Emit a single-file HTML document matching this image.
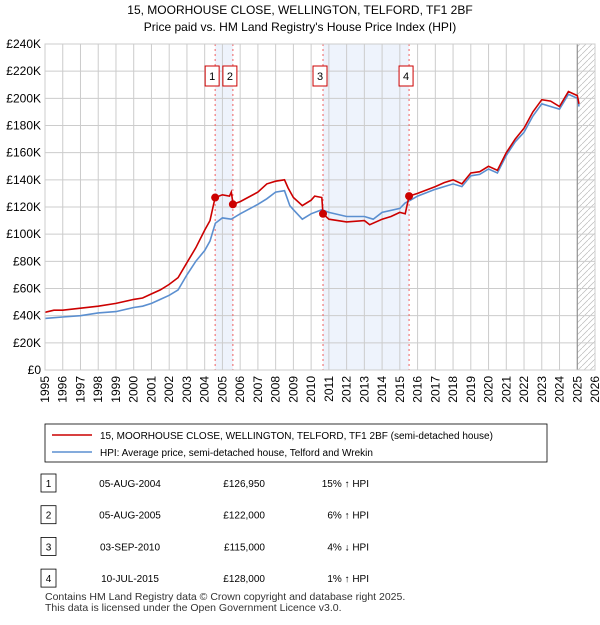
<!DOCTYPE html>
<html><head><meta charset="utf-8"><style>
body{margin:0;background:#fff;font-family:"Liberation Sans","DejaVu Sans",sans-serif;}
</style></head><body>
<svg width="600" height="620" xmlns="http://www.w3.org/2000/svg" font-family="Liberation Sans, DejaVu Sans, sans-serif">
<text x="300" y="14" text-anchor="middle" font-size="12">15, MOORHOUSE CLOSE, WELLINGTON, TELFORD, TF1 2BF</text>
<text x="300" y="31" text-anchor="middle" font-size="12">Price paid vs. HM Land Registry's House Price Index (HPI)</text>
<g id="plot"></g>
<g>
<rect x="45" y="424" width="502" height="38" fill="#fff" stroke="#000" stroke-width="0.8"/>
<line x1="52" y1="435" x2="92" y2="435" stroke="#cc0000" stroke-width="1.6"/>
<text x="100" y="439" font-size="10">15, MOORHOUSE CLOSE, WELLINGTON, TELFORD, TF1 2BF (semi-detached house)</text>
<line x1="52" y1="452" x2="92" y2="452" stroke="#5b8fd0" stroke-width="1.6"/>
<text x="100" y="456" font-size="10">HPI: Average price, semi-detached house, Telford and Wrekin</text>
</g>
<g id="table"></g>
<text x="45" y="600" font-size="10.5" fill="#333">Contains HM Land Registry data © Crown copyright and database right 2025.</text>
<text x="45" y="611" font-size="10.5" fill="#333">This data is licensed under the Open Government Licence v3.0.</text>
</svg>
<script>
const yTicks=[0,20,40,60,80,100,120,140,160,180,200,220,240];
const years=[1995,1996,1997,1998,1999,2000,2001,2002,2003,2004,2005,2006,2007,2008,2009,2010,2011,2012,2013,2014,2015,2016,2017,2018,2019,2020,2021,2022,2023,2024,2025,2026];
const redT=[1995,1995.5,1996,1997,1998,1999,2000,2000.5,2001,2001.5,2002,2002.5,2003,2003.5,2004,2004.3,2004.59,2005,2005.4,2005.5,2005.6,2006,2007,2007.5,2008,2008.5,2008.7,2009,2009.5,2010,2010.2,2010.6,2010.67,2011,2012,2013,2013.3,2014,2014.5,2015,2015.3,2015.52,2016,2017,2017.5,2018,2018.5,2019,2019.5,2020,2020.5,2021,2021.5,2022,2022.5,2023,2023.5,2024,2024.5,2025,2025.1];
const redV=[42.5,44,44,45.5,47,49,52,53,56,59,63,68,79,90,103,110,126.95,129,128,131,122,124,131,137,139,140,134,127,121,125,128,127,115,111,109,110,107,111,113,116,115,128,130,135,138,140,137,145,146,150,147,160,170,178,190,199,198,194,205,202,196];
const hpiT=[1995,1995.5,1996,1997,1998,1999,2000,2000.5,2001,2001.5,2002,2002.5,2003,2003.5,2004,2004.3,2004.6,2005,2005.5,2006,2007,2007.5,2008,2008.5,2008.8,2009,2009.5,2010,2010.6,2011,2012,2013,2013.5,2014,2015,2015.3,2015.6,2016,2017,2018,2018.5,2019,2019.5,2020,2020.5,2021,2021.5,2022,2022.5,2023,2023.5,2024,2024.5,2025,2025.1];
const hpiV=[38,38.5,39,40,42,43,46,47,49,52,55,59,70,80,88,95,108,112,111,115,122,126,131,132,121,118,111,115,118,116,113,113,111,116,119,123,125,128,133,137,135,143,144,148,145,158,168,175,187,196,194,192,203,200,194];
const saleLabels=["1","2","3","4"];
const saleT=[2004.59,2005.59,2010.67,2015.52];
const saleV=[126.95,122,115,128];
const saleDates=["05-AUG-2004","05-AUG-2005","03-SEP-2010","10-JUL-2015"];
const salePrices=["£126,950","£122,000","£115,000","£128,000"];
const saleHpi=["15% ↑ HPI","6% ↑ HPI","4% ↓ HPI","1% ↑ HPI"];
const X0=45,X1=595,Y0=370,Y1=44;
const xs=t=>X0+(t-1995)/31*(X1-X0);
const ys=v=>Y0-v/240*(Y0-Y1);
const NS="http://www.w3.org/2000/svg";
const plot=document.getElementById('plot');
function mk(tag,attrs,parent){const e=document.createElementNS(NS,tag);for(const k in attrs)e.setAttribute(k,attrs[k]);(parent||plot).appendChild(e);return e;}
[[0,1],[2,3]].forEach(p=>{const r=mk('rect',{x:xs(saleT[p[0]]),y:Y1,width:xs(saleT[p[1]])-xs(saleT[p[0]]),height:Y0-Y1,fill:'#eef3fc'});

});
const defs=mk('defs',{});const pat=mk('pattern',{id:'h',width:6,height:6,patternUnits:'userSpaceOnUse'},defs);mk('path',{d:'M0,6 L6,0',stroke:'#bbb','stroke-width':0.7},pat);
const hr=mk('rect',{x:xs(2025),y:Y1,width:X1-xs(2025),height:Y0-Y1,fill:'url(#h)'});


yTicks.forEach(v=>{mk('line',{x1:X0,x2:X1,y1:ys(v),y2:ys(v),stroke:'#ccc','stroke-width':1});
const t=mk('text',{x:X0-4,y:ys(v)+4,'text-anchor':'end','font-size':12});t.textContent='£'+(v?v+'K':'0');

});
years.forEach(y=>{mk('line',{x1:xs(y),x2:xs(y),y1:Y1,y2:Y0,stroke:'#ccc','stroke-width':1});
const t=mk('text',{x:0,y:0,'text-anchor':'end','font-size':12,transform:`translate(${xs(y)+4},${Y0+6}) rotate(-90)`});t.textContent=y;

});
mk('line',{x1:xs(2025),x2:xs(2025),y1:Y1,y2:Y0,stroke:'#888','stroke-width':1});
saleT.forEach((t,i)=>{const l=mk('line',{x1:xs(t),x2:xs(t),y1:Y1,y2:Y0,stroke:'#f06060','stroke-width':1,'stroke-dasharray':'2,3'});


const bx=xs(t)-10;
const b=mk('rect',{x:bx,y:66,width:14,height:20,fill:'#fff',stroke:'#cc0000','stroke-width':1});


const tx=mk('text',{x:bx+7,y:80,'text-anchor':'middle','font-size':11});tx.textContent=saleLabels[i];

});
const line=(T,V)=>T.map((t,i)=>(i?'L':'M')+xs(t).toFixed(1)+','+ys(V[i]).toFixed(1)).join('');
const hp=mk('path',{d:line(hpiT,hpiV),fill:'none',stroke:'#5b8fd0','stroke-width':1.6});


const rp=mk('path',{d:line(redT,redV),fill:'none',stroke:'#cc0000','stroke-width':1.6});


saleT.forEach((t,i)=>{const c=mk('circle',{cx:xs(t),cy:ys(saleV[i]),r:4,fill:'#cc0000'});

});
mk('rect',{x:X0,y:Y1,width:X1-X0,height:Y0-Y1,fill:'none',stroke:'#ccc'});
const tb=document.getElementById('table');
saleLabels.forEach((l,i)=>{const y=483+i*31.7;
const b=mk('rect',{x:41,y:y-9,width:15,height:18,fill:'#fff',stroke:'#000','stroke-width':0.8},tb);


const a=mk('text',{x:48.5,y:y+4,'text-anchor':'middle','font-size':10},tb);a.textContent=l;
const d=mk('text',{x:130,y:y+4,'text-anchor':'middle','font-size':10},tb);d.textContent=saleDates[i];


const p=mk('text',{x:265,y:y+4,'text-anchor':'end','font-size':10},tb);p.textContent=salePrices[i];


const h=mk('text',{x:369,y:y+4,'text-anchor':'end','font-size':10},tb);h.textContent=saleHpi[i];

});
</script>
</body></html>
